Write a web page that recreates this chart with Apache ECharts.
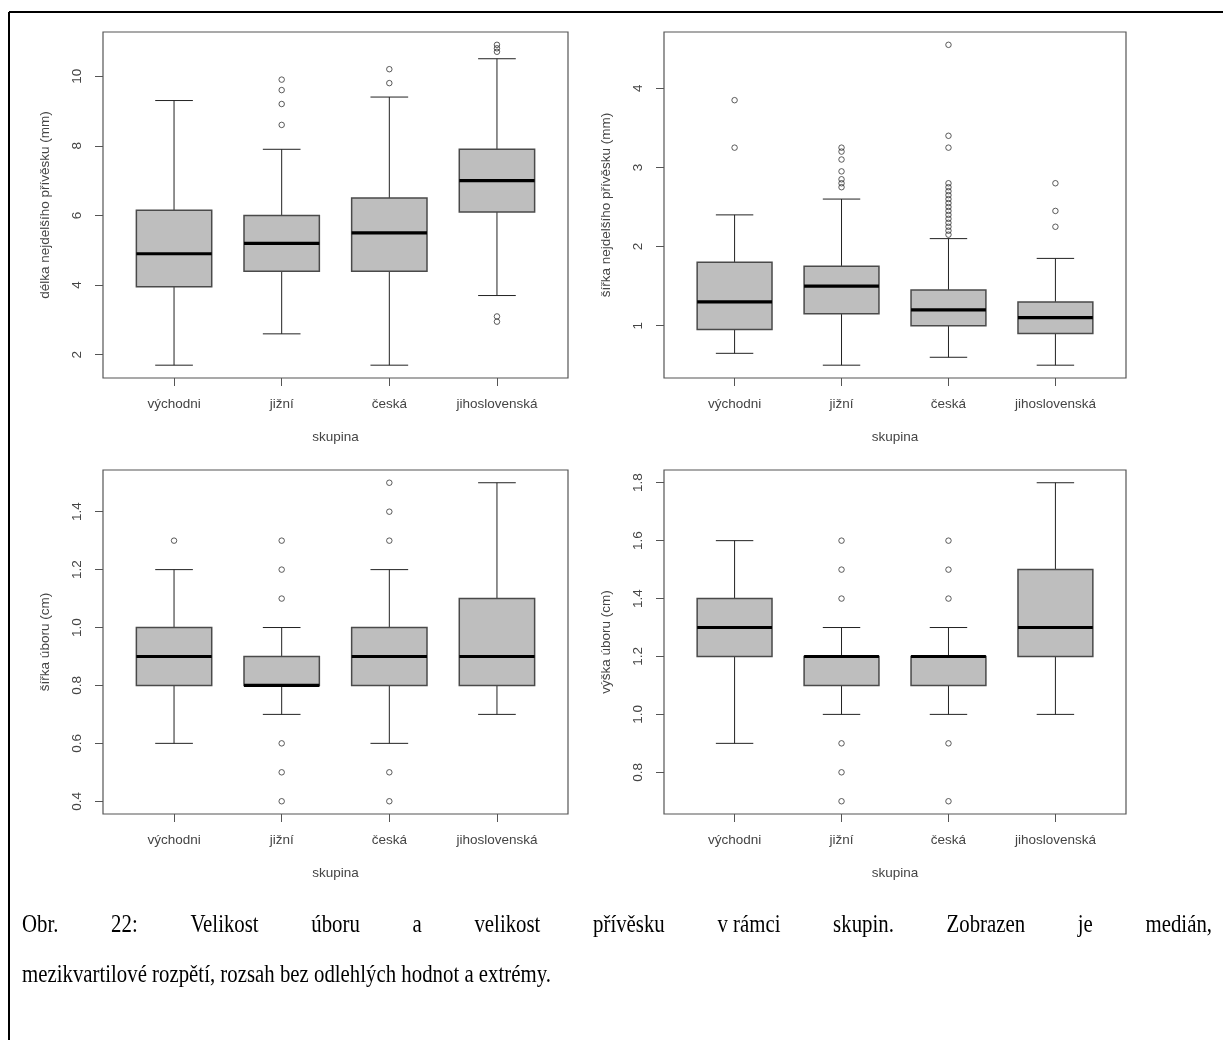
<!DOCTYPE html>
<html>
<head>
<meta charset="utf-8">
<script src="https://cdn.jsdelivr.net/npm/echarts@6/dist/echarts.min.js"></script>
<style>
html,body{margin:0;padding:0;background:#fff;}
#c{width:1223px;height:1040px;}
</style>
</head>
<body>
<div id="c"></div>
<script>
// ---------------- DATA ----------------
const groups = ['východni', 'jižní', 'česká', 'jihoslovenská'];
const groupPos = [1, 2, 3, 4];
const xLabel = 'skupina';

// each stat row: [lower whisker, Q1, median, Q3, upper whisker]
const delkaName = 'délka nejdelšího přívěsku (mm)';
const delkaStats = [
  [1.7, 3.95, 4.9, 6.15, 9.3],
  [2.6, 4.4, 5.2, 6.0, 7.9],
  [1.7, 4.4, 5.5, 6.5, 9.4],
  [3.7, 6.1, 7.0, 7.9, 10.5]
];
const delkaOutliers = [
  [],
  [8.6, 9.2, 9.6, 9.9],
  [9.8, 10.2],
  [2.95, 3.1, 10.7, 10.8, 10.9]
];
const delkaTicks = [2, 4, 6, 8, 10];

const sirkaPrivName = 'šířka nejdelšího přívěsku (mm)';
const sirkaPrivStats = [
  [0.65, 0.95, 1.3, 1.8, 2.4],
  [0.5, 1.15, 1.5, 1.75, 2.6],
  [0.6, 1.0, 1.2, 1.45, 2.1],
  [0.5, 0.9, 1.1, 1.3, 1.85]
];
const sirkaPrivOutliers = [
  [3.25, 3.85],
  [2.75, 2.8, 2.85, 2.95, 3.1, 3.2, 3.25],
  [2.15, 2.2, 2.25, 2.3, 2.35, 2.4, 2.45, 2.5, 2.55, 2.6, 2.65, 2.7, 2.75, 2.8, 3.25, 3.4, 4.55],
  [2.25, 2.45, 2.8]
];
const sirkaPrivTicks = [1, 2, 3, 4];

const sirkaUbName = 'šířka úboru (cm)';
const sirkaUbStats = [
  [0.6, 0.8, 0.9, 1.0, 1.2],
  [0.7, 0.8, 0.8, 0.9, 1.0],
  [0.6, 0.8, 0.9, 1.0, 1.2],
  [0.7, 0.8, 0.9, 1.1, 1.5]
];
const sirkaUbOutliers = [
  [1.3],
  [0.4, 0.5, 0.6, 1.1, 1.2, 1.3],
  [0.4, 0.5, 1.3, 1.4, 1.5],
  []
];
const sirkaUbTicks = [0.4, 0.6, 0.8, 1.0, 1.2, 1.4];

const vyskaUbName = 'výška úboru (cm)';
const vyskaUbStats = [
  [0.9, 1.2, 1.3, 1.4, 1.6],
  [1.0, 1.1, 1.2, 1.2, 1.3],
  [1.0, 1.1, 1.2, 1.2, 1.3],
  [1.0, 1.2, 1.3, 1.5, 1.8]
];
const vyskaUbOutliers = [
  [],
  [0.7, 0.8, 0.9, 1.4, 1.5, 1.6],
  [0.7, 0.9, 1.4, 1.5, 1.6],
  []
];
const vyskaUbTicks = [0.8, 1.0, 1.2, 1.4, 1.6, 1.8];

const captionLine1 = ['Obr.', '22:', 'Velikost', 'úboru', 'a', 'velikost', 'přívěsku', 'v\u00a0rámci', 'skupin.', 'Zobrazen', 'je', 'medián,'];
const captionLine2 = 'mezikvartilové rozpětí, rozsah bez odlehlých hodnot a extrémy.';

// ---------------- LAYOUT ----------------
const panels = [
  {name: delkaName, stats: delkaStats, out: delkaOutliers, ticks: delkaTicks, dec: 0, grid: {left: 103, top: 32, width: 465, height: 346}},
  {name: sirkaPrivName, stats: sirkaPrivStats, out: sirkaPrivOutliers, ticks: sirkaPrivTicks, dec: 0, grid: {left: 664, top: 32, width: 462, height: 346}},
  {name: sirkaUbName, stats: sirkaUbStats, out: sirkaUbOutliers, ticks: sirkaUbTicks, dec: 1, grid: {left: 103, top: 470, width: 465, height: 344}},
  {name: vyskaUbName, stats: vyskaUbStats, out: vyskaUbOutliers, ticks: vyskaUbTicks, dec: 1, grid: {left: 664, top: 470, width: 462, height: 344}}
];

const FONT = '"Liberation Sans", Arial, sans-serif';
const TXT = '#444';
const AX = '#555';
const BOX_HALF = 0.35;

// R-style axis ranges (data extremes extended by 4%)
function rRange(stats, out) {
  let lo = Infinity, hi = -Infinity;
  stats.forEach(r => r.forEach(v => { lo = Math.min(lo, v); hi = Math.max(hi, v); }));
  out.forEach(r => r.forEach(v => { lo = Math.min(lo, v); hi = Math.max(hi, v); }));
  const d = (hi - lo) * 0.04;
  return [lo - d, hi + d];
}
const xMin = 0.5 - 0.16, xMax = 4.5 + 0.16;

function renderBox(params, api) {
  const x = api.value(0);
  const lo = api.value(1), q1 = api.value(2), med = api.value(3), q3 = api.value(4), hi = api.value(5);
  const halfW = api.size([BOX_HALF, 0])[0];
  const sHalf = halfW / 2;
  const pLo = api.coord([x, lo]), pQ1 = api.coord([x, q1]), pMed = api.coord([x, med]);
  const pQ3 = api.coord([x, q3]), pHi = api.coord([x, hi]);
  const cx = pMed[0];
  const ws = {stroke: '#222', lineWidth: 1};
  return {
    type: 'group',
    children: [
      {type: 'line', shape: {x1: cx, y1: pQ3[1], x2: cx, y2: pHi[1]}, style: ws},
      {type: 'line', shape: {x1: cx, y1: pQ1[1], x2: cx, y2: pLo[1]}, style: ws},
      {type: 'line', shape: {x1: cx - sHalf, y1: pHi[1], x2: cx + sHalf, y2: pHi[1]}, style: ws},
      {type: 'line', shape: {x1: cx - sHalf, y1: pLo[1], x2: cx + sHalf, y2: pLo[1]}, style: ws},
      {type: 'rect', shape: {x: cx - halfW, y: pQ3[1], width: 2 * halfW, height: pQ1[1] - pQ3[1]},
        style: {fill: '#bebebe', stroke: '#4a4a4a', lineWidth: 1.5}},
      {type: 'line', shape: {x1: cx - halfW, y1: pMed[1], x2: cx + halfW, y2: pMed[1]},
        style: {stroke: '#000', lineWidth: 3.2}}
    ]
  };
}

const grid = [], xAxis = [], yAxis = [], series = [];
panels.forEach((p, i) => {
  const yr = rRange(p.stats, p.out);
  grid.push(Object.assign({show: true, borderColor: AX, borderWidth: 1.2, backgroundColor: 'transparent'}, p.grid));
  xAxis.push({
    type: 'value', gridIndex: i, min: xMin, max: xMax,
    axisLine: {show: false},
    splitLine: {show: false},
    axisTick: {show: true, length: 8, customValues: groupPos, lineStyle: {color: AX, width: 1}},
    axisLabel: {customValues: groupPos, margin: 19, color: TXT, fontFamily: FONT, fontSize: 13.5,
      formatter: v => groups[Math.round(v) - 1]},
    name: xLabel, nameLocation: 'middle', nameGap: 52,
    nameTextStyle: {color: TXT, fontFamily: FONT, fontSize: 13.5}
  });
  yAxis.push({
    type: 'value', gridIndex: i, min: yr[0], max: yr[1],
    axisLine: {show: false},
    splitLine: {show: false},
    axisTick: {show: true, length: 8, customValues: p.ticks, lineStyle: {color: AX, width: 1}},
    axisLabel: {customValues: p.ticks, rotate: 90, margin: 19, color: TXT, fontFamily: FONT, fontSize: 13.5,
      formatter: v => v.toFixed(p.dec)},
    name: p.name, nameLocation: 'middle', nameGap: 51,
    nameTextStyle: {color: TXT, fontFamily: FONT, fontSize: 13.5}
  });
  series.push({
    type: 'custom', xAxisIndex: i, yAxisIndex: i,
    renderItem: renderBox,
    encode: {x: 0, y: [1, 2, 3, 4, 5]},
    data: p.stats.map((s, k) => [groupPos[k]].concat(s)),
    silent: true
  });
  const pts = [];
  p.out.forEach((arr, k) => arr.forEach(v => pts.push([groupPos[k], v])));
  series.push({
    type: 'scatter', xAxisIndex: i, yAxisIndex: i,
    symbol: 'circle', symbolSize: 5.5,
    itemStyle: {color: 'rgba(0,0,0,0)', borderColor: '#333', borderWidth: 1},
    data: pts, silent: true, z: 5
  });
});

// caption (justified first line, condensed serif like the scanned figure)
const CAP_FONT_SIZE = 24.5;
const CAP_SX = 0.85;
const CAP_FONT = CAP_FONT_SIZE + 'px "Liberation Serif", "Times New Roman", serif';
const cv = document.createElement('canvas').getContext('2d');
cv.font = CAP_FONT;
const capLeft = 22, capRight = 1212;
const widths = captionLine1.map(w => cv.measureText(w).width * CAP_SX);
const total = widths.reduce((a, b) => a + b, 0);
const gap = (capRight - capLeft - total) / (captionLine1.length - 1);
const graphic = [
  {type: 'line', shape: {x1: 9, y1: 12, x2: 1223, y2: 12}, style: {stroke: '#000', lineWidth: 2}},
  {type: 'line', shape: {x1: 9, y1: 12, x2: 9, y2: 1040}, style: {stroke: '#000', lineWidth: 2}}
];
let cx = capLeft;
captionLine1.forEach((w, i) => {
  graphic.push({type: 'text', x: cx, y: 926, scaleX: CAP_SX,
    style: {text: w, font: CAP_FONT, fill: '#000', verticalAlign: 'middle', align: 'left'}});
  cx += widths[i] + gap;
});
graphic.push({type: 'text', x: capLeft, y: 976, scaleX: CAP_SX,
  style: {text: captionLine2, font: CAP_FONT, fill: '#000', verticalAlign: 'middle', align: 'left'}});

const chart = echarts.init(document.getElementById('c'), null, {renderer: 'canvas'});
chart.setOption({
  backgroundColor: '#fff',
  animation: false,
  grid: grid,
  xAxis: xAxis,
  yAxis: yAxis,
  series: series,
  graphic: graphic
});
</script>
</body>
</html>
